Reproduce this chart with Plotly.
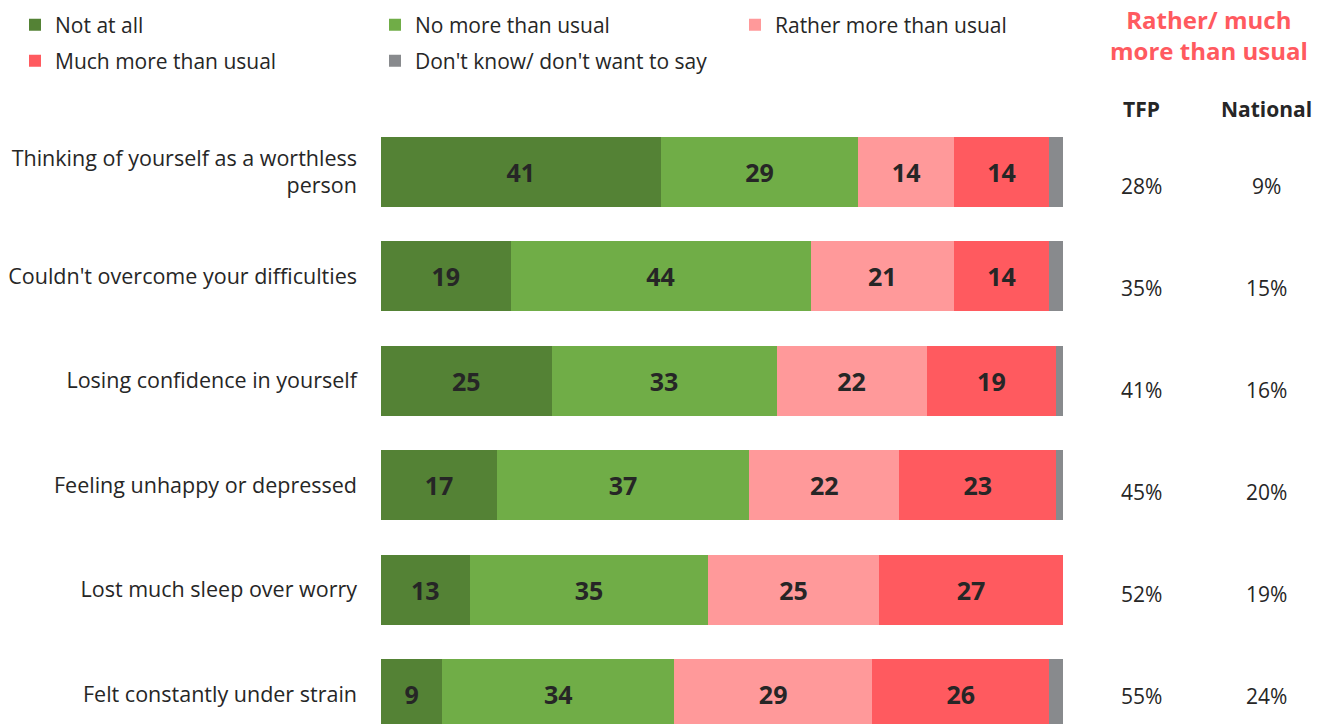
import plotly.graph_objects as go

# Survey items (top to bottom)
items = [
    "Thinking of yourself as a worthless<br>person",
    "Couldn't overcome your difficulties",
    "Losing confidence in yourself",
    "Feeling unhappy or depressed",
    "Lost much sleep over worry",
    "Felt constantly under strain",
]

# Response shares (%)
not_at_all = [41, 19, 25, 17, 13, 9]
no_more = [29, 44, 33, 37, 35, 34]
rather_more = [14, 21, 22, 22, 25, 29]
much_more = [14, 14, 19, 23, 27, 26]
dont_know = [2, 2, 1, 1, 0, 2]

# Rather/much more than usual: TFP vs national
tfp_pct = ["28%", "35%", "41%", "45%", "52%", "55%"]
national_pct = ["9%", "15%", "16%", "20%", "19%", "24%"]

# name, values, colour, show value label, legend row
series = [
    ("Not at all", not_at_all, "#548235", True, "legend"),
    ("No more than usual", no_more, "#70AD47", True, "legend"),
    ("Rather more than usual", rather_more, "#FF999A", True, "legend"),
    ("Much more than usual", much_more, "#FF5A5F", True, "legend2"),
    ("Don't know/ don't want to say", dont_know, "#888A8D", False, "legend2"),
]

W, H = 1327, 724
FONT = "Open Sans"
TXT = "#262626"

rows = list(range(len(items)))

fig = go.Figure()
for name, vals, color, labelled, leg in series:
    fig.add_trace(go.Bar(
        name=name,
        legend=leg,
        y=rows,
        x=vals,
        orientation="h",
        width=0.67,
        marker=dict(color=color, line=dict(width=0)),
        text=vals if labelled else None,
        texttemplate="%{x}" if labelled else None,
        textposition="inside" if labelled else "none",
        insidetextanchor="middle",
        textfont=dict(family=FONT, size=25, color=TXT, weight="bold"),
        hoverinfo="skip",
    ))

# Row pitch / offset in pixels so that rows sit where intended
first_row_px, row_pitch_px = 172, 104.4
y_top = -first_row_px / row_pitch_px
y_bottom = (H - first_row_px) / row_pitch_px

annotations = []

# Right-hand header
annotations.append(dict(
    x=1209 / W, y=1 - 35 / H, xref="paper", yref="paper",
    text="Rather/ much<br>more than usual", showarrow=False,
    xanchor="center", yanchor="middle",
    font=dict(family=FONT, size=24, color="#FF5A5F", weight="bold"),
))
col_x = [1141 / W, 1266 / W]
for cx, head in zip(col_x, ["TFP", "National"]):
    annotations.append(dict(
        x=cx, y=1 - 109 / H, xref="paper", yref="paper", text=head,
        showarrow=False, xanchor="center", yanchor="middle",
        font=dict(family=FONT, size=21, color=TXT, weight="bold"),
    ))

# Percentage columns
pct_first_px, pct_pitch_px = 186, 102
for i, (a, b) in enumerate(zip(tfp_pct, national_pct)):
    yp = 1 - (pct_first_px + i * pct_pitch_px) / H
    for cx, t in zip(col_x, [a, b]):
        annotations.append(dict(
            x=cx, y=yp, xref="paper", yref="paper", text=t,
            showarrow=False, xanchor="center", yanchor="middle",
            font=dict(family=FONT, size=21, color=TXT),
        ))

legend_common = dict(
    orientation="h", xanchor="left", yanchor="middle",
    entrywidth=315, entrywidthmode="pixels",
    font=dict(family=FONT, size=21, color=TXT),
    traceorder="normal", itemclick=False, itemdoubleclick=False,
    bgcolor="rgba(0,0,0,0)",
)

fig.update_layout(
    width=W, height=H,
    barmode="stack",
    margin=dict(l=0, r=0, t=0, b=0),
    paper_bgcolor="white",
    plot_bgcolor="white",
    font=dict(family=FONT, size=21, color=TXT),
    uniformtext=dict(minsize=25, mode="show"),
    xaxis=dict(domain=[381 / W, 1063 / W], range=[0, 100], visible=False, fixedrange=True),
    yaxis=dict(
        range=[y_bottom, y_top],
        tickvals=rows, ticktext=items,
        showgrid=False, zeroline=False, showline=False, ticks="",
        ticklabelstandoff=23,
        tickfont=dict(family=FONT, size=21.5, color=TXT),
        fixedrange=True,
    ),
    legend=dict(x=15 / W, y=1 - 25 / H, **legend_common),
    legend2=dict(x=15 / W, y=1 - 61 / H, **legend_common),
    annotations=annotations,
    showlegend=True,
)

fig.write_html("out.html")
